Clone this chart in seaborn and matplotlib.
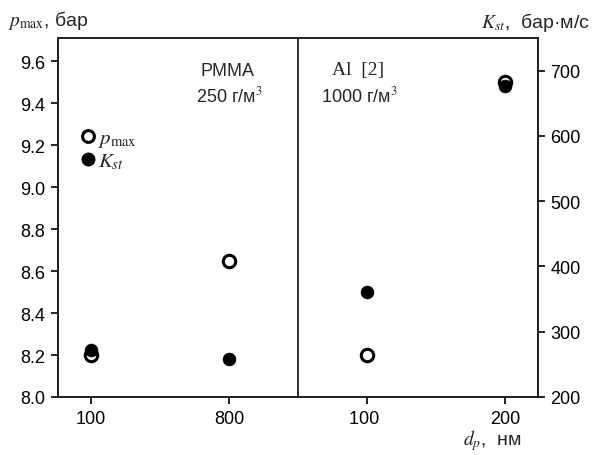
import matplotlib
matplotlib.use("Agg")
import matplotlib.pyplot as plt
import seaborn as sns
import pandas as pd
from matplotlib.lines import Line2D

sns.set_theme(style="ticks")
plt.rcParams['font.family'] = ['Liberation Sans', 'DejaVu Sans']
plt.rcParams['mathtext.fontset'] = 'stix'

categories = ["100", "800", "100 ", "200"]
positions = [0, 1, 2, 3]
p_max = [8.20, 8.65, 8.20, 9.50]
k_st = [272, 258, 361, 677]

df = pd.DataFrame({"pos": positions, "p_max": p_max, "k_st": k_st})

fig = plt.figure(figsize=(5.95, 4.56), dpi=100)
ax = fig.add_axes([58/595, 1-398/456, 480/595, 359/456])
ax2 = ax.twinx()

sns.scatterplot(data=df, x="pos", y="p_max", ax=ax, marker="o", s=80,
                facecolor="white", edgecolor="black", linewidth=2.2, zorder=3, legend=False)
sns.scatterplot(data=df, x="pos", y="k_st", ax=ax2, marker="o", s=85,
                color="black", edgecolor="black", linewidth=0.5, zorder=3, legend=False)

ax.set_xlim(-0.24, 3.24)
ax.set_ylim(8.0, 9.71)
ax2.set_ylim(200, 750)
ax.set_xticks(positions)
ax.set_xticklabels(categories)
yt = [8.0, 8.2, 8.4, 8.6, 8.8, 9.0, 9.2, 9.4, 9.6]
ax.set_yticks(yt)
ax.set_yticklabels([f"{v:.1f}" for v in yt])
ax2.set_yticks([200, 300, 400, 500, 600, 700])
ax.set_xlabel("")
ax.set_ylabel("")
ax2.set_ylabel("")

for a in (ax, ax2):
    a.tick_params(direction="out", length=5, width=1.2, labelsize=13, colors="black", pad=4)
    for sp in a.spines.values():
        sp.set_visible(True)
        sp.set_linewidth(1.3)
        sp.set_color("#222222")

ax.axvline(1.5, color="#222222", linewidth=1.3)

ax.text(0.79, 9.555, "PMMA", fontsize=13, ha="left", va="center")
ax.text(0.76, 9.435, "250 г/м$^3$", fontsize=13, ha="left", va="center")
ax.text(1.75, 9.56, "Al  [2]", fontsize=14, ha="left", va="center",
        family=["Liberation Serif"])
ax.text(1.67, 9.435, "1000 г/м$^3$", fontsize=13, ha="left", va="center")

handles = [
    Line2D([], [], marker="o", linestyle="none", markersize=8.5, markerfacecolor="white",
           markeredgecolor="black", markeredgewidth=2.2),
    Line2D([], [], marker="o", linestyle="none", markersize=9, markerfacecolor="black",
           markeredgecolor="black"),
]
ax.legend(handles, [r"$p_{\mathrm{max}}$", r"$K_{st}$"], loc="upper left",
          bbox_to_anchor=(0.0, 0.79), frameon=False, fontsize=15,
          handletextpad=-0.3, labelspacing=0.1, borderaxespad=0.3, handlelength=1.5)

fig.text(8/595, 1-20/456, r"$p_{\mathrm{max}}$, бар", fontsize=14, ha="left", va="center")
fig.text(590/595, 1-23/456, r"$K_{st}$,  бар·м/с", fontsize=14, ha="right", va="center")
fig.text(522/595, 1-441/456, r"$d_p$,  нм", fontsize=14, ha="right", va="center")

fig.savefig("out.png", dpi=100)
